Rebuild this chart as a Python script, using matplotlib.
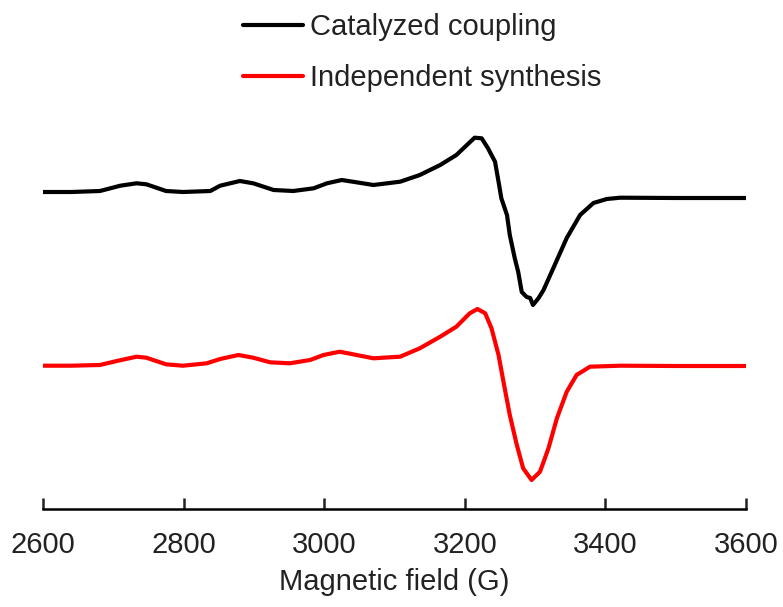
import matplotlib
matplotlib.use('Agg')
import matplotlib.pyplot as plt
import numpy as np

# magnetic field (G) and signal (arb. units, baseline = 0)
field_cat = [2600, 2640, 2681, 2710, 2733, 2747, 2775, 2799, 2838, 2852, 2880,
             2899, 2928, 2956, 2985, 3004, 3025, 3046, 3070, 3108, 3136, 3165,
             3188, 3203, 3214, 3224, 3233, 3243, 3248, 3252, 3260, 3264, 3271,
             3276, 3281, 3288, 3293, 3297, 3305, 3312, 3326, 3345, 3364, 3383,
             3402, 3421, 3500, 3600]
signal_cat = [0, 0, 1, 6.3, 8.7, 7.7, 1, 0, 1, 6.3, 11,
              8.7, 2, 1, 3.7, 8.7, 12, 9.7, 7, 10.3, 17, 27,
              37, 47, 54.3, 53.7, 43.7, 30.3, 10.3, -6.3, -23, -43, -66,
              -80, -100, -105, -106, -113, -106, -98, -76, -46, -23, -11,
              -7, -5.7, -6, -6]

field_ind = [2600, 2640, 2681, 2705, 2733, 2747, 2775, 2799, 2833, 2852, 2878,
             2899, 2923, 2951, 2980, 2999, 3022, 3046, 3070, 3108, 3136, 3165,
             3188, 3207, 3218, 3229, 3238, 3248, 3255, 3264, 3274, 3283, 3295,
             3307, 3319, 3331, 3345, 3359, 3378, 3421, 3500, 3600]
signal_ind = [0.3, 0.3, 1, 5, 9.3, 8.3, 1.7, 0.3, 2.7, 7, 11,
              8.3, 3.7, 2.7, 6, 11, 14.3, 11, 7.7, 9.3, 17.7, 29.3,
              39.3, 52.7, 57, 52.7, 37.7, 11, -15.7, -49, -79, -102.3, -114,
              -105.7, -82.3, -52.3, -25.7, -9, -0.7, 0.3, 0, 0]

labels = ['Catalyzed coupling', 'Independent synthesis']
offsets = [317, 143]  # vertical stacking of the two spectra

plt.rcParams['font.family'] = ['Liberation Sans', 'DejaVu Sans']

fig = plt.figure(figsize=(7.83, 6.07), dpi=100)
ax = fig.add_axes([43/783, 98/607, 703/783, 509/607])

ax.plot(field_cat, np.array(signal_cat) + offsets[0], color='black', lw=3,
        solid_joinstyle='round', solid_capstyle='round', label=labels[0])
ax.plot(field_ind, np.array(signal_ind) + offsets[1], color='#ff0000', lw=3,
        solid_joinstyle='round', solid_capstyle='round', label=labels[1])

ax.set_xlim(2600, 3600)
ax.set_ylim(0, 509)
ax.set_xticks(np.arange(2600, 3601, 200))
ax.set_yticks([])
for s in ['top', 'right', 'left']:
    ax.spines[s].set_visible(False)
ax.spines['bottom'].set_linewidth(1.8)
ax.tick_params(axis='x', direction='in', length=8, width=1.8, pad=16,
               labelsize=21, colors='#222222')
ax.set_xlabel('Magnetic field (G)', fontsize=21, labelpad=6, color='#222222')

leg = fig.legend(loc='upper left', bbox_to_anchor=(243/783, 1 - 13/607),
                 frameon=False, fontsize=21, borderpad=0, borderaxespad=0,
                 handlelength=2.05, handletextpad=0.25, labelspacing=0.8)
for t in leg.get_texts():
    t.set_color('#222222')

plt.savefig('out.png', dpi=100)
plt.close()
